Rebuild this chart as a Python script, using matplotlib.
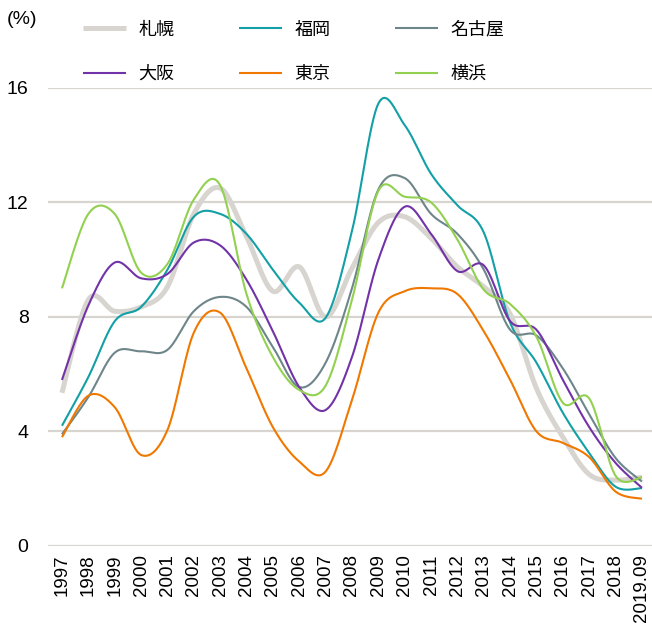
import numpy as np
import matplotlib
matplotlib.use('Agg')
import matplotlib.pyplot as plt

years = ['1997', '1998', '1999', '2000', '2001', '2002', '2003', '2004', '2005', '2006',
         '2007', '2008', '2009', '2010', '2011', '2012', '2013', '2014', '2015', '2016',
         '2017', '2018', '2019.09']

sapporo = [5.35, 8.6, 8.2, 8.35, 9.05, 11.6, 12.5, 10.8, 8.9, 9.75, 8.0, 9.7,
           11.3, 11.5, 10.75, 9.75, 9.05, 8.1, 5.5, 3.8, 2.5, 2.3, 2.4]
fukuoka = [4.2, 5.9, 7.85, 8.35, 9.65, 11.5, 11.6, 10.9, 9.65, 8.5, 7.97, 11.0,
           15.45, 14.7, 13.0, 11.9, 10.95, 7.8, 6.4, 4.65, 3.25, 2.07, 2.02]
nagoya = [3.9, 5.2, 6.75, 6.8, 6.85, 8.2, 8.7, 8.35, 6.95, 5.55, 6.4, 9.0,
          12.45, 12.85, 11.6, 10.9, 9.65, 7.55, 7.35, 6.2, 4.6, 3.07, 2.25]
osaka = [5.8, 8.4, 9.9, 9.35, 9.5, 10.6, 10.5, 9.3, 7.5, 5.55, 4.75, 6.6,
         10.0, 11.85, 10.9, 9.6, 9.8, 7.85, 7.55, 5.8, 4.15, 2.9, 2.03]
tokyo = [3.8, 5.25, 4.85, 3.18, 4.05, 7.45, 8.15, 6.2, 4.15, 2.95, 2.6, 5.1,
         8.15, 8.9, 9.0, 8.8, 7.5, 5.8, 4.0, 3.6, 3.1, 1.9, 1.65]
yokohama = [9.0, 11.6, 11.6, 9.55, 9.85, 12.1, 12.6, 8.8, 6.6, 5.45, 5.6, 8.6,
            12.4, 12.2, 12.0, 10.7, 8.95, 8.45, 7.3, 5.0, 5.15, 2.45, 2.4]

series = [
    ('札幌', sapporo, '#d8d4cf', 3.6),
    ('福岡', fukuoka, '#12a0a6', 1.5),
    ('名古屋', nagoya, '#6e868a', 1.5),
    ('大阪', osaka, '#7233a8', 1.5),
    ('東京', tokyo, '#f07800', 1.5),
    ('横浜', yokohama, '#92d050', 1.5),
]


def smooth(y, n=30):
    # Catmull-Rom style bezier smoothing (like spreadsheet "smoothed line")
    y = np.asarray(y, float)
    x = np.arange(len(y), dtype=float)
    xs, ys = [], []
    for i in range(len(y) - 1):
        i0, i3 = max(i - 1, 0), min(i + 2, len(y) - 1)
        p0 = np.array([x[i], y[i]])
        p3 = np.array([x[i + 1], y[i + 1]])
        c1 = p0 + (np.array([x[i + 1], y[i + 1]]) - np.array([x[i0], y[i0]])) / 6
        c2 = p3 - (np.array([x[i3], y[i3]]) - np.array([x[i], y[i]])) / 6
        t = np.linspace(0, 1, n)[:, None]
        pts = ((1 - t) ** 3) * p0 + 3 * ((1 - t) ** 2) * t * c1 + 3 * (1 - t) * t ** 2 * c2 + t ** 3 * p3
        xs.extend(pts[:, 0])
        ys.extend(pts[:, 1])
    return np.array(xs), np.array(ys)


fig = plt.figure(figsize=(6.52, 6.28), dpi=100)
ax = fig.add_axes([0.0736, 0.1306, 0.9264, 0.7294])

handles = {}
for name, vals, color, lw in series:
    sx, sy = smooth(vals)
    h, = ax.plot(sx, sy, color=color, lw=lw, solid_capstyle='butt', label=name)
    handles[name] = h

ax.set_ylim(0, 16)
ax.set_xlim(-0.53, 22.38)
ax.set_yticks([0, 4, 8, 12, 16])
ax.set_xticks(range(len(years)))
ax.set_xticklabels(years, rotation=90, fontsize=13.5, family='Liberation Sans')
for lab in ax.get_yticklabels():
    lab.set_fontsize(14)
    lab.set_family('Liberation Sans')
ax.tick_params(axis='both', length=0)
ax.tick_params(axis='y', pad=14)
ax.tick_params(axis='x', pad=6)
ax.grid(axis='y', color='#d8d4cf', lw=1.6)
ax.set_axisbelow(True)
for s in ax.spines.values():
    s.set_visible(False)

fig.text(0.011, 0.982, '(%)', fontsize=14, family='Liberation Sans', va='top', ha='left')

order = ['札幌', '大阪', '福岡', '東京', '名古屋', '横浜']
leg = fig.legend([handles[k] for k in order], order, ncol=3, frameon=False,
                 loc='upper left', bbox_to_anchor=(0.128, 0.967),
                 prop={'family': ['Noto Sans CJK JP', 'DejaVu Sans'], 'size': 13},
                 handlelength=2.38, handletextpad=0.66, columnspacing=3.6,
                 labelspacing=1.45, borderpad=0, borderaxespad=0)
for lh in leg.get_lines():
    lh.set_linewidth(1.5)
leg.get_lines()[0].set_linewidth(3.6)

fig.savefig('out.png', dpi=100)
